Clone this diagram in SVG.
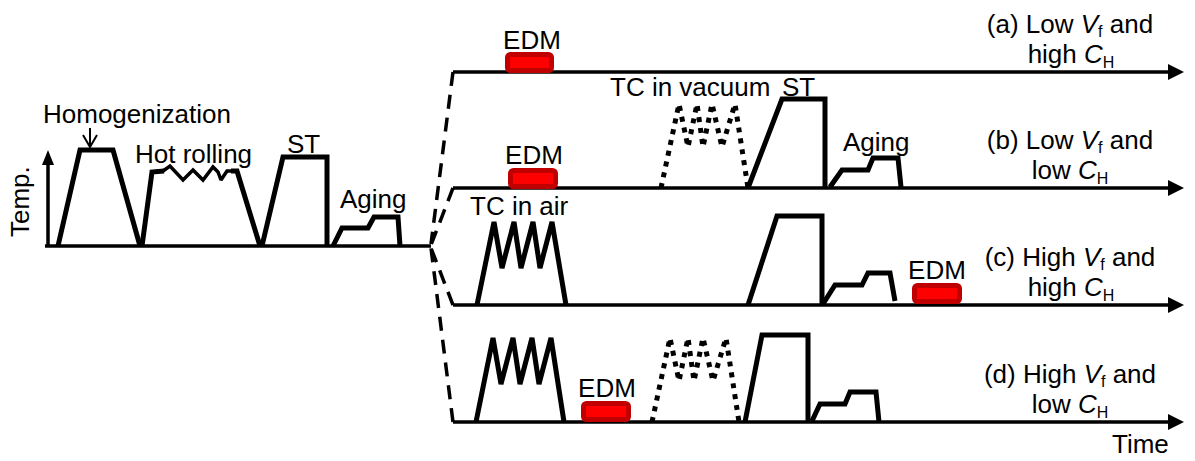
<svg xmlns="http://www.w3.org/2000/svg" width="1195" height="461" viewBox="0 0 1195 461">
  <defs>
    <style>
      .t { font-family: "Liberation Sans", Arial, sans-serif; font-size: 26px; fill: #000; }
      .sub { font-size: 16px; }
      .it { font-style: italic; }
      .prof { fill: none; stroke: #000; stroke-width: 5; stroke-linejoin: miter; stroke-miterlimit: 2; stroke-linecap: butt; }
      .zig { fill: none; stroke: #000; stroke-width: 3.5; stroke-linejoin: miter; stroke-miterlimit: 2; }
      .dot { fill: none; stroke: #000; stroke-width: 5; stroke-dasharray: 5 6; stroke-linejoin: bevel; }
      .axis { fill: none; stroke: #000; stroke-width: 3.5; }
      .dash { fill: none; stroke: #000; stroke-width: 3.5; stroke-dasharray: 14 9; }
      .edm { fill: #ff0000; stroke: #c00000; stroke-width: 5; }
      .thin { fill: none; stroke: #000; stroke-width: 2; }
    </style>
    <marker id="arr" viewBox="0 0 16 16" markerWidth="16" markerHeight="16" refX="8" refY="8" orient="auto" markerUnits="userSpaceOnUse">
      <path d="M0,0 L16,8 L0,16 z" fill="#000"/>
    </marker>
    <marker id="arrT" viewBox="0 0 15 12" markerWidth="15" markerHeight="12" refX="7" refY="6" orient="auto" markerUnits="userSpaceOnUse">
      <path d="M0,0 L15,6 L0,12 z" fill="#000"/>
    </marker>
  </defs>

  <g id="common-route">
    <path d="M48,246 V158" class="axis" stroke-width="3" marker-end="url(#arrT)"/>
    <path d="M45,246 H431" class="axis" stroke-width="3"/>
    <text class="t" transform="translate(29,237) rotate(-90)">Temp.</text>
    <path d="M58,246 L80,150 L113,150 L140,246" class="prof"/>
    <path d="M90,128 V147 M83,135 L90,147 L97,135" class="thin"/>
    <text class="t" x="43" y="123">Homogenization</text>
    <path d="M142,246 L152,172 L164,171" class="prof"/>
    <path d="M163,171 L170,166 L183,180 L193,170 L203,180 L213,167 L218,172 L221,180 L227,171 L233,171" class="zig"/>
    <path d="M231,171 L237,171 L260,246" class="prof"/>
    <text class="t" x="135" y="163">Hot rolling</text>
    <path d="M262,246 L283,157 L327,157 L327,246" class="prof"/>
    <text class="t" x="287" y="153">ST</text>
    <path d="M333,246 L342,228 L368,228 L374,217 L398,217 L400,246" class="prof"/>
    <text class="t" x="340" y="208">Aging</text>
  </g>

  <g id="connectors">
    <path d="M453,72 L431,244" class="dash"/>
    <path d="M453,188 L431,245" class="dash"/>
    <path d="M453,305 L431,248" class="dash"/>
    <path d="M453,422 L431,248" class="dash"/>
  </g>

  <g id="route-a">
    <path d="M453,72 H1176" class="axis" marker-end="url(#arr)"/>
    <rect x="507.5" y="54.5" width="44" height="16" rx="3" class="edm"/>
    <text class="t" x="532" y="49" text-anchor="middle">EDM</text>
    <text class="t" x="1070" y="33" text-anchor="middle">(a) Low <tspan class="it">V</tspan><tspan class="sub" dy="4">f</tspan><tspan dy="-4"> and</tspan></text>
    <text class="t" x="1071" y="63" text-anchor="middle">high <tspan class="it">C</tspan><tspan class="sub" dy="5">H</tspan></text>
  </g>

  <g id="route-b">
    <path d="M453,188 H1176" class="axis" marker-end="url(#arr)"/>
    <rect x="510.5" y="170.5" width="45" height="16" rx="3" class="edm"/>
    <text class="t" x="534" y="164" text-anchor="middle">EDM</text>
    <path d="M661,188 L679,104 L688,147 L697,104 L703,147 L712,104 L722,147 L735,104 L748,188" class="dot"/>
    <text class="t" x="610" y="96">TC in vacuum</text>
    <path d="M748,188 L782,99 L825,99 L825,188" class="prof"/>
    <text class="t" x="782" y="96">ST</text>
    <path d="M830,187 L842,170 L868,170 L873,158 L898,158 L901,187" class="prof"/>
    <text class="t" x="843" y="151">Aging</text>
    <text class="t" x="1070" y="149" text-anchor="middle">(b) Low <tspan class="it">V</tspan><tspan class="sub" dy="4">f</tspan><tspan dy="-4"> and</tspan></text>
    <text class="t" x="1070" y="179" text-anchor="middle">low <tspan class="it">C</tspan><tspan class="sub" dy="5">H</tspan></text>
  </g>

  <g id="route-c">
    <path d="M453,305 H1176" class="axis" marker-end="url(#arr)"/>
    <path d="M477,305 L494,222 L502,268 L514,222 L521,268 L533,222 L540,268 L552,222 L566,305" class="prof"/>
    <text class="t" x="470" y="215">TC in air</text>
    <path d="M748,305 L777,216 L822,216 L822,305" class="prof"/>
    <path d="M823,304 L835,285 L862,285 L868,273 L890,273 L895,301" class="prof"/>
    <rect x="914.5" y="285.5" width="45" height="16" rx="3" class="edm"/>
    <text class="t" x="937" y="279" text-anchor="middle">EDM</text>
    <text class="t" x="1070" y="266" text-anchor="middle">(c) High <tspan class="it">V</tspan><tspan class="sub" dy="4">f</tspan><tspan dy="-4"> and</tspan></text>
    <text class="t" x="1071" y="296" text-anchor="middle">high <tspan class="it">C</tspan><tspan class="sub" dy="5">H</tspan></text>
  </g>

  <g id="route-d">
    <path d="M453,422 H1176" class="axis" marker-end="url(#arr)"/>
    <path d="M476,422 L493,338 L501,384 L513,338 L520,384 L532,338 L539,384 L551,338 L564,422" class="prof"/>
    <rect x="583.5" y="403.5" width="45" height="16" rx="3" class="edm"/>
    <text class="t" x="607" y="397" text-anchor="middle">EDM</text>
    <path d="M652,422 L670,338 L679,381 L688,338 L694,381 L703,338 L713,381 L726,338 L739,422" class="dot"/>
    <path d="M745,422 L762,335 L808,335 L808,422" class="prof"/>
    <path d="M812,421 L820,404 L845,404 L850,392 L876,392 L879,422" class="prof"/>
    <text class="t" x="1070" y="383" text-anchor="middle">(d) High <tspan class="it">V</tspan><tspan class="sub" dy="4">f</tspan><tspan dy="-4"> and</tspan></text>
    <text class="t" x="1070" y="413" text-anchor="middle">low <tspan class="it">C</tspan><tspan class="sub" dy="5">H</tspan></text>
    <text class="t" x="1112" y="453">Time</text>
  </g>
</svg>
